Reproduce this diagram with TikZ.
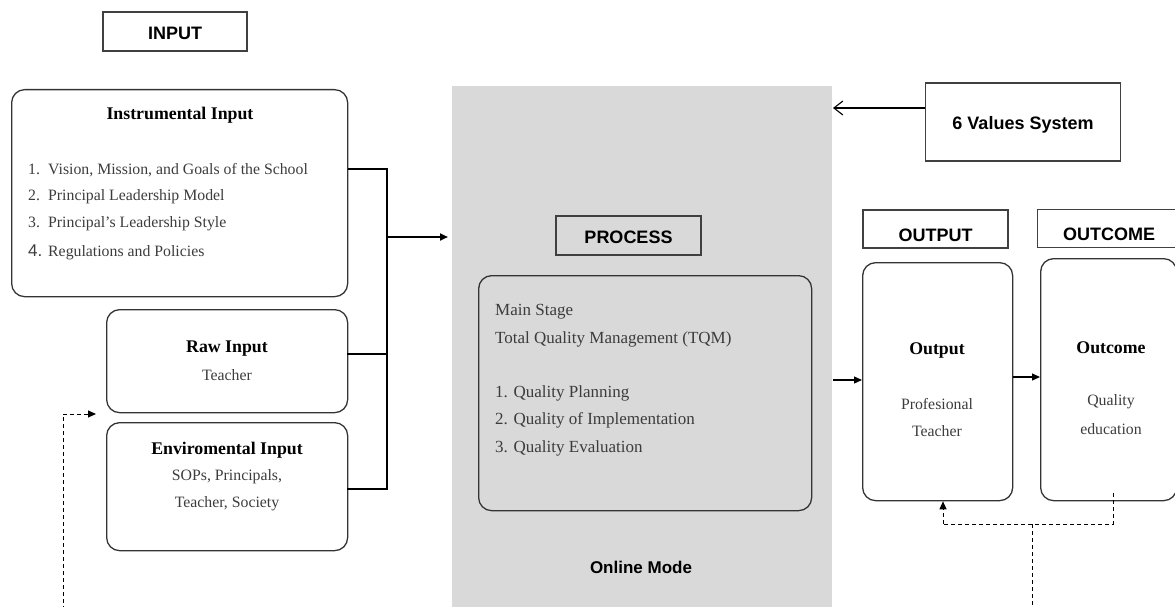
\documentclass[tikz,border=0pt]{standalone}
\usepackage{fontspec}
\setmainfont{Liberation Serif}
\newfontfamily\hsans{Liberation Sans}
\usetikzlibrary{arrows.meta}
\definecolor{panelgray}{RGB}{217,217,217}
\definecolor{txtgray}{RGB}{60,60,60}
\begin{document}
\begin{tikzpicture}[x=1pt,y=-1pt,
 lbl/.style={draw=black!75, line width=1.2pt, inner sep=0pt, font=\hsans\bfseries\fontsize{18}{21}\selectfont},
 lbltxt/.style={font=\hsans\bfseries\fontsize{18}{21}\selectfont, inner sep=0pt},
 rbox/.style={draw=black!80, line width=1.3pt, rounded corners=13pt, inner sep=0pt, anchor=north west},
 ttl/.style={font=\bfseries\fontsize{17.8}{20}\selectfont, inner sep=0pt},
 txt/.style={font=\fontsize{15.8}{18}\selectfont, text=txtgray, inner sep=0pt},
 ptxt/.style={font=\fontsize{17}{19}\selectfont, text=txtgray, inner sep=0pt, anchor=west},
 bus/.style={line width=2pt},
 arr/.style={line width=1.2pt, -{Triangle[length=8pt,width=7pt]}},
 dsh/.style={line width=1pt, dash pattern=on 4pt off 3pt},
]
\useasboundingbox (0,0) rectangle (1175,607);

% gray process panel
\node[fill=panelgray, inner sep=0pt, anchor=north west, minimum width=380pt, minimum height=525pt] (panel) at (452,86) {};

% header labels
\node[lbl, minimum width=144pt, minimum height=39pt] (inlbl) at (175,31.5) {};
\node[lbltxt] (intxt) at (175,33) {INPUT};
\node[lbl, minimum width=145pt, minimum height=39pt] (proclbl) at (628.5,235.5) {};
\node[lbltxt] (proctxt) at (628.5,237.5) {PROCESS};
\node[lbl, minimum width=145pt, minimum height=38pt] (outlbl) at (935.5,229) {};
\node[lbltxt] (outtxt) at (935.5,235.5) {OUTPUT};
\node[lbl, anchor=north west, minimum width=140pt, minimum height=38pt] (ocmlbl) at (1037,208.5) {};
\node[lbltxt] (ocmtxt) at (1109,234.5) {OUTCOME};
\node[lbl, minimum width=195pt, minimum height=78pt] (values) at (1023,122) {};
\node[lbltxt] (valtxt) at (1023,124.5) {6 Values System};

% input boxes
\node[rbox, minimum width=336pt, minimum height=207pt] (instr) at (11,89) {};
\node[ttl] (instrt) at (180,115) {Instrumental Input};
\node[txt, anchor=west] (it1) at (28,170) {\makebox[20pt][l]{1.}Vision, Mission, and Goals of the School};
\node[txt, anchor=west] (it2) at (28,197) {\makebox[20pt][l]{2.}Principal Leadership Model};
\node[txt, anchor=west] (it3) at (28,224) {\makebox[20pt][l]{3.}Principal's Leadership Style};
\node[txt, anchor=west] (it4) at (28,252) {\makebox[20pt][l]{\hsans\fontsize{17}{19}\selectfont 4.}Regulations and Policies};

\node[rbox, minimum width=241pt, minimum height=103pt] (raw) at (106,309) {};
\node[ttl] (rawt) at (227,349) {Raw Input};
\node[txt] (rawx) at (227,375) {Teacher};

\node[rbox, minimum width=241pt, minimum height=128pt] (env) at (106,422) {};
\node[ttl] (envt) at (227,450) {Enviromental Input};
\node[txt] (envx1) at (227,477) {SOPs, Principals,};
\node[txt] (envx2) at (227,504) {Teacher, Society};

% process box
\node[rbox, minimum width=333pt, minimum height=235pt] (proc) at (478,275) {};
\node[ptxt] (p1) at (495,312) {Main Stage};
\node[ptxt] (p2) at (495,339) {Total Quality Management (TQM)};
\node[ptxt] (p3) at (495,393) {1. Quality Planning};
\node[ptxt] (p4) at (495,420) {2. Quality of Implementation};
\node[ptxt] (p5) at (495,448) {3. Quality Evaluation};
\node[font=\hsans\bfseries\fontsize{17}{20}\selectfont, inner sep=0pt] (online) at (641,567) {Online Mode};

% output / outcome boxes
\node[rbox, minimum width=150pt, minimum height=238pt] (outb) at (862,262) {};
\node[ttl] (outt) at (937,350) {Output};
\node[txt] (outx1) at (937,404) {Profesional};
\node[txt] (outx2) at (937,431) {Teacher};

\node[rbox, minimum width=136pt, minimum height=242pt] (ocm) at (1040,258) {};
\node[ttl] (ocmt) at (1111,348) {Outcome};
\node[txt] (ocmx1) at (1111,402) {Quality};
\node[txt] (ocmx2) at (1111,429) {education};

% bus connectors from inputs
\coordinate (bus) at (387,237);
\coordinate (rawj) at (347,354);
\coordinate (envj) at (347,489);
\draw[bus] (instr.east |- 0,169) -- (bus |- 0,169) -- (bus |- envj) -- (envj);
\draw[bus] (rawj) -- (rawj -| bus);
\draw[arr, line width=2pt, shorten >=4pt] (bus) -- (bus -| panel.west);

% 6 values arrow
\draw[line width=1.1pt, -{Straight Barb[length=9pt,width=14pt]}] (values.west |- 926,108) -- (833,108);

% process to output, output to outcome
\draw[arr] (833,380) -- (outb.west |- 833,380);
\draw[arr] (outb.east |- 0,377) -- (ocm.west |- 0,377);

% dashed feedback
\coordinate (fbr) at (1113,524);
\coordinate (fbl) at (943,524);
\coordinate (fbm) at (1032,524);
\coordinate (fbbot) at (1032,610);
\draw[dsh] (1113,493) -- (fbr) -- (fbl);
\draw[dsh, -{Triangle[length=8pt,width=7pt]}] (fbl) -- (outb.south -| fbl);
\draw[dsh] (fbm) -- (fbbot);

\coordinate (lfb) at (63,414);
\draw[dsh] (63,610) -- (lfb);
\draw[dsh, -{Triangle[length=8pt,width=7pt]}] (lfb) -- (96,414);
\end{tikzpicture}
\end{document}
